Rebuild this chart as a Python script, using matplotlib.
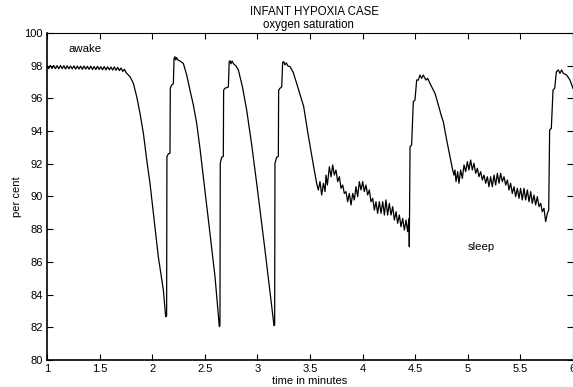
import matplotlib
matplotlib.use("Agg")
import matplotlib.pyplot as plt
import numpy as np

plt.rcParams['font.family'] = ['Liberation Sans', 'DejaVu Sans']

# ---- data (time in minutes, saturation in per cent) ----
awake_t = [1.000, 1.016, 1.032, 1.048, 1.064, 1.080, 1.096, 1.112, 1.128, 1.144,
           1.160, 1.176, 1.192, 1.208, 1.224, 1.240, 1.256, 1.272, 1.288, 1.304,
           1.320, 1.336, 1.352, 1.368, 1.384, 1.400, 1.416, 1.432, 1.448, 1.464,
           1.480, 1.496, 1.512, 1.528, 1.544, 1.560, 1.576, 1.592, 1.608, 1.624,
           1.640, 1.656, 1.672, 1.688, 1.704, 1.720, 1.736, 1.752]
awake_y = [98.00, 97.82, 98.02, 97.83, 98.01, 97.82, 98.00, 97.81, 98.01, 97.82,
           98.00, 97.80, 97.99, 97.81, 97.98, 97.80, 97.99, 97.79, 97.98, 97.80,
           97.97, 97.78, 97.98, 97.79, 97.96, 97.78, 97.97, 97.77, 97.95, 97.76,
           97.96, 97.77, 97.94, 97.75, 97.95, 97.74, 97.93, 97.75, 97.92, 97.73,
           97.93, 97.72, 97.90, 97.70, 97.86, 97.65, 97.78, 97.58]

cycle1_t = [1.770, 1.789, 1.821, 1.853, 1.884, 1.916, 1.948, 1.979, 2.011, 2.058,
            2.106, 2.128, 2.137, 2.140, 2.153, 2.169, 2.172, 2.185, 2.201, 2.208,
            2.216, 2.224, 2.232, 2.245, 2.260]
cycle1_y = [97.45, 97.33, 96.92, 96.10, 95.09, 93.87, 92.24, 90.81, 88.97, 86.32,
            84.28, 82.65, 82.70, 92.44, 92.60, 92.65, 96.62, 96.82, 96.90, 98.45,
            98.55, 98.35, 98.50, 98.35, 98.30]

cycle2_t = [2.296, 2.328, 2.359, 2.391, 2.423, 2.454, 2.486, 2.518, 2.549, 2.597,
            2.638, 2.644, 2.647, 2.660, 2.676, 2.679, 2.692, 2.724, 2.732, 2.740,
            2.748, 2.760, 2.775]
cycle2_y = [98.14, 97.43, 96.51, 95.60, 94.47, 92.95, 91.21, 89.48, 87.75, 85.10,
            82.04, 82.10, 92.03, 92.40, 92.45, 96.51, 96.62, 96.70, 98.25, 98.30,
            98.12, 98.28, 98.10]

cycle3_t = [2.795, 2.819, 2.858, 2.898, 2.945, 2.993, 3.032, 3.072, 3.112, 3.151,
            3.158, 3.164, 3.167, 3.183, 3.199, 3.202, 3.215, 3.231, 3.240, 3.250,
            3.262, 3.275, 3.290]
cycle3_y = [98.00, 97.74, 96.70, 95.29, 93.20, 90.81, 88.80, 86.73, 84.55, 82.45,
            82.10, 82.15, 92.03, 92.40, 92.45, 96.51, 96.62, 96.70, 98.20, 98.25,
            98.05, 98.18, 97.98]

sleep1_t = [3.310, 3.340, 3.374, 3.440, 3.480, 3.530, 3.563, 3.579, 3.595, 3.611,
            3.627, 3.643, 3.652, 3.665, 3.684, 3.700, 3.716, 3.731, 3.747, 3.763,
            3.779, 3.795, 3.811, 3.826, 3.842, 3.858, 3.874, 3.890, 3.906, 3.921,
            3.937, 3.953, 3.969, 3.985, 4.001, 4.016, 4.032, 4.048, 4.064, 4.080,
            4.096, 4.112, 4.127, 4.143, 4.159, 4.175, 4.191, 4.207, 4.222, 4.238,
            4.254, 4.270, 4.286, 4.302, 4.318, 4.333, 4.349, 4.365, 4.381, 4.397,
            4.413, 4.428, 4.441, 4.444]
sleep1_y = [97.94, 97.60, 96.90, 95.50, 93.87, 92.00, 90.81, 90.40, 90.91, 90.09,
            90.81, 90.30, 91.31, 90.70, 91.82, 91.21, 91.93, 91.31, 91.62, 90.91,
            91.21, 90.50, 90.70, 90.19, 90.30, 89.68, 90.19, 89.48, 90.19, 89.79,
            90.60, 89.99, 90.91, 90.40, 90.91, 90.30, 90.70, 90.09, 90.40, 89.68,
            89.89, 89.17, 89.68, 88.97, 89.68, 88.97, 89.68, 88.87, 89.79, 88.87,
            89.58, 88.87, 89.38, 88.56, 89.07, 88.36, 88.87, 88.15, 88.66, 87.95,
            88.56, 87.85, 88.66, 86.93]

cycle4_t = [4.451, 4.466, 4.482, 4.498, 4.514, 4.530, 4.545, 4.561, 4.577, 4.602,
            4.618, 4.640, 4.688, 4.720, 4.751, 4.767, 4.799, 4.831, 4.856]
cycle4_y = [93.05, 93.15, 95.80, 95.90, 97.13, 97.12, 97.43, 97.23, 97.43, 97.12,
            97.23, 96.92, 96.31, 95.60, 94.88, 94.58, 93.46, 92.44, 91.62]

sleep2_t = [4.869, 4.878, 4.888, 4.904, 4.916, 4.932, 4.948, 4.964, 4.980, 4.996,
            5.011, 5.027, 5.043, 5.059, 5.075, 5.091, 5.106, 5.122, 5.138, 5.154,
            5.170, 5.186, 5.201, 5.217, 5.233, 5.249, 5.265, 5.281, 5.297, 5.312,
            5.328, 5.344, 5.360, 5.376, 5.392, 5.407, 5.423, 5.439, 5.455, 5.471,
            5.487, 5.502, 5.518, 5.534, 5.550, 5.566, 5.582, 5.598, 5.613, 5.629,
            5.645, 5.661, 5.677, 5.693, 5.708, 5.724, 5.740, 5.756, 5.769]
sleep2_y = [91.31, 91.62, 90.91, 91.52, 90.81, 91.62, 91.11, 91.93, 91.52, 92.13,
            91.62, 92.23, 91.62, 92.03, 91.42, 91.72, 91.21, 91.52, 91.01, 91.31,
            90.81, 91.21, 90.60, 91.21, 90.60, 91.31, 90.70, 91.42, 90.81, 91.42,
            90.91, 91.21, 90.70, 91.01, 90.40, 90.81, 90.19, 90.60, 89.99, 90.50,
            89.89, 90.50, 89.79, 90.50, 89.79, 90.40, 89.68, 90.30, 89.58, 90.09,
            89.48, 89.99, 89.38, 89.58, 89.07, 89.28, 88.46, 88.97, 89.17]

cycle5_t = [5.778, 5.794, 5.810, 5.826, 5.842, 5.861, 5.876, 5.892, 5.908, 5.940,
            5.971, 6.000]
cycle5_y = [94.07, 94.17, 96.51, 96.62, 97.63, 97.74, 97.53, 97.74, 97.53, 97.43,
            97.12, 96.62]

x_ticks = [1, 1.5, 2, 2.5, 3, 3.5, 4, 4.5, 5, 5.5, 6]
x_tick_labels = ['1', '1.5', '2', '2.5', '3', '3.5', '4', '4.5', '5', '5.5', '6']
y_ticks = [80, 82, 84, 86, 88, 90, 92, 94, 96, 98, 100]

t = np.concatenate([awake_t, cycle1_t, cycle2_t, cycle3_t, sleep1_t,
                    cycle4_t, sleep2_t, cycle5_t])
y = np.concatenate([awake_y, cycle1_y, cycle2_y, cycle3_y, sleep1_y,
                    cycle4_y, sleep2_y, cycle5_y])

# ---- figure ----
W, H = 573, 387
fig = plt.figure(figsize=(W / 100, H / 100), dpi=100)
ax = fig.add_axes([47 / W, 1 - 360 / H, (573 - 47) / W, (360 - 33) / H])

ax.plot(t, y, color='black', linewidth=0.9)

ax.set_xlim(1, 6)
ax.set_ylim(80, 100)
ax.set_xticks(x_ticks)
ax.set_xticklabels(x_tick_labels)
ax.set_yticks(y_ticks)
ax.tick_params(direction='in', length=4, width=0.8, top=True, right=True,
               labelsize=8, pad=3)
for s in ax.spines.values():
    s.set_linewidth(0.8)
ax.spines['left'].set_linewidth(1.2)
ax.spines['bottom'].set_linewidth(1.2)

ax.set_xlabel('time in minutes', fontsize=8, labelpad=1)
ax.set_ylabel('per cent', fontsize=8, labelpad=2)

fig.text(315 / W, 1 - 12 / H, 'INFANT HYPOXIA CASE', ha='center', va='center', fontsize=8.3)
fig.text(308 / W, 1 - 25 / H, 'oxygen saturation', ha='center', va='center', fontsize=8.3)

ax.text(1.2, 99.0, 'awake', ha='left', va='center', fontsize=8.2)
ax.text(5.0, 86.9, 'sleep', ha='left', va='center', fontsize=8.2)

fig.savefig('out.png', dpi=100)
